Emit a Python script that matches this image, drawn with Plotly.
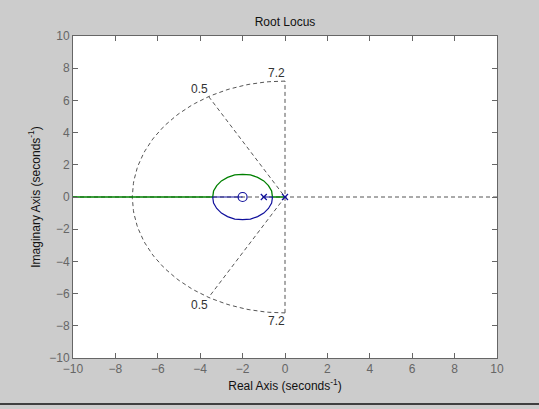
"""Root locus of G(s) = (s+2) / (s(s+1)) with an sgrid at zeta=0.5, wn=7.2."""

import numpy as np
import plotly.graph_objects as go

# open-loop poles and zero
POLES_RE = [0.0, -1.0]
POLES_IM = [0.0, 0.0]
ZEROS_RE = [-2.0]
ZEROS_IM = [0.0]

# branch 1 (green): pole at 0 -> breakaway -> upper arc -> off to -inf
GREEN_RE = [0.0, -0.59, -0.63, -0.78, -1.00, -1.29, -1.63, -2.00,
            -2.37, -2.71, -3.00, -3.22, -3.37, -3.41, -10.0]
GREEN_IM = [0.0, 0.0, 0.37, 0.71, 1.00, 1.22, 1.37, 1.41,
            1.37, 1.22, 1.00, 0.71, 0.37, 0.0, 0.0]

# branch 2 (blue): pole at -1 -> breakaway -> lower arc -> into zero at -2
BLUE_RE = [-1.0, -0.59, -0.63, -0.78, -1.00, -1.29, -1.63, -2.00,
           -2.37, -2.71, -3.00, -3.22, -3.37, -3.41, -2.0]
BLUE_IM = [0.0, 0.0, -0.37, -0.71, -1.00, -1.22, -1.37, -1.41,
           -1.37, -1.22, -1.00, -0.71, -0.37, 0.0, 0.0]

# sgrid values
ZETA = 0.5
WN = 7.2

TICKS = [-10, -8, -6, -4, -2, 0, 2, 4, 6, 8, 10]

BG = "#cccccc"
AXIS = "#666666"
GRID = "#555555"
BLUE = "#10109c"
GREEN = "#008000"
FONT = "Liberation Sans, Arial, sans-serif"

fig = go.Figure()

# --- sgrid (dashed) ---
grid_line = dict(color=GRID, width=1, dash="4px,3px")
fig.add_trace(go.Scatter(x=[-10, 10], y=[0, 0], mode="lines", line=grid_line,
                         hoverinfo="skip", showlegend=False))
fig.add_trace(go.Scatter(x=[0, 0], y=[-WN, WN], mode="lines", line=grid_line,
                         hoverinfo="skip", showlegend=False))
theta = np.linspace(np.pi / 2, 3 * np.pi / 2, 120)
fig.add_trace(go.Scatter(x=WN * np.cos(theta), y=WN * np.sin(theta), mode="lines",
                         line=grid_line, hoverinfo="skip", showlegend=False))
zx = -WN * ZETA
zy = WN * np.sqrt(1 - ZETA ** 2)
fig.add_trace(go.Scatter(x=[zx, 0, zx], y=[zy, 0, -zy], mode="lines",
                         line=grid_line, hoverinfo="skip", showlegend=False))

# --- locus branches ---
fig.add_trace(go.Scatter(x=GREEN_RE, y=GREEN_IM, mode="lines",
                         line=dict(color=GREEN, width=1.3), showlegend=False))
fig.add_trace(go.Scatter(x=BLUE_RE, y=BLUE_IM, mode="lines",
                         line=dict(color=BLUE, width=1.2), showlegend=False))

# --- poles / zeros ---
fig.add_trace(go.Scatter(x=POLES_RE, y=POLES_IM, mode="markers",
                         marker=dict(symbol="x-thin", size=6, color=BLUE,
                                     line=dict(color=BLUE, width=1.2)),
                         showlegend=False))
fig.add_trace(go.Scatter(x=ZEROS_RE, y=ZEROS_IM, mode="markers",
                         marker=dict(symbol="circle-open", size=9, color=BLUE,
                                     line=dict(color=BLUE, width=1.2)),
                         showlegend=False))

# sgrid labels
lab = dict(showarrow=False, font=dict(family=FONT, size=12, color="#333333"))
annotations = [
    dict(x=zx - 0.45, y=zy + 0.5, text=f"{ZETA:g}", **lab),
    dict(x=zx - 0.45, y=-zy - 0.45, text=f"{ZETA:g}", **lab),
    dict(x=-0.42, y=WN + 0.5, text=f"{WN:g}", **lab),
    dict(x=-0.42, y=-WN - 0.5, text=f"{WN:g}", **lab),
]

axis_common = dict(
    range=[-10, 10],
    tickvals=TICKS,
    ticks="inside",
    ticklen=5,
    tickcolor=AXIS,
    showline=True,
    linecolor=AXIS,
    linewidth=1,
    mirror="ticks",
    showgrid=False,
    zeroline=False,
    tickfont=dict(family=FONT, size=12, color=AXIS),
)

fig.update_layout(
    width=539,
    height=409,
    paper_bgcolor=BG,
    plot_bgcolor="white",
    margin=dict(l=73, r=42, t=36, b=51),
    title=dict(text="Root Locus", x=0.5, xref="paper", y=0.946, yanchor="middle",
               font=dict(family=FONT, size=12, color="#111111")),
    xaxis=dict(**axis_common,
               title=dict(text="Real Axis (seconds<sup>-1</sup>)", standoff=6,
                          font=dict(family=FONT, size=12, color="#111111"))),
    yaxis=dict(**axis_common,
               title=dict(text="Imaginary Axis (seconds<sup>-1</sup>)", standoff=6,
                          font=dict(family=FONT, size=12, color="#111111"))),
    annotations=annotations,
    shapes=[dict(type="line", xref="paper", yref="paper",
                 x0=-0.2, x1=1.2, y0=-0.143, y1=-0.143,
                 line=dict(color="#111111", width=1.5))],
)

# drop the page's default body margin so the figure sits at the window's corner
fig.write_html("out.html",
               config={"displayModeBar": False},
               post_script="document.body.style.margin='0';document.body.style.overflow='hidden';")
